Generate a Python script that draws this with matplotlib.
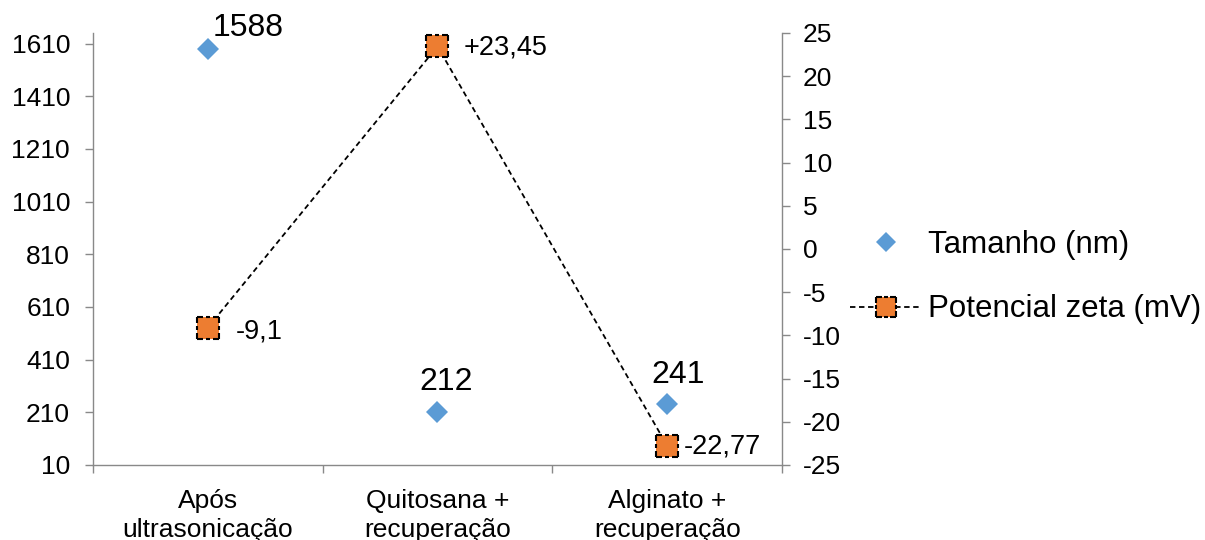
import matplotlib
matplotlib.use('Agg')
import matplotlib.pyplot as plt
from matplotlib.path import Path
from matplotlib.lines import Line2D
from matplotlib.legend_handler import HandlerTuple
import numpy as np

# ---- data ----
categories = ["Após\nultrasonicação", "Quitosana +\nrecuperação", "Alginato +\nrecuperação"]
tamanho_nm = [1588, 212, 241]
zeta_mv = [-9.1, 23.45, -22.77]
size_ticks = [10, 210, 410, 610, 810, 1010, 1210, 1410, 1610]
zeta_ticks = [-25, -20, -15, -10, -5, 0, 5, 10, 15, 20, 25]
series_names = ["Tamanho (nm)", "Potencial zeta (mV)"]

plt.rcParams['font.family'] = ['Liberation Sans', 'DejaVu Sans']
plt.rcParams['axes.unicode_minus'] = False

BLUE = '#5B9BD5'
ORANGE = '#ED7D31'
GRAY = '#898989'

fig = plt.figure(figsize=(12.05, 5.4), dpi=100)
ax = fig.add_axes([93/1205, 1 - 465/540, (782-93)/1205, (465-33)/540])
ax2 = ax.twinx()

x = np.arange(1, len(categories) + 1)
ax.set_xlim(0.5, len(categories) + 0.5)
ax.set_ylim(10, 1650)
ax2.set_ylim(-25, 25)

# spines
for a in (ax, ax2):
    a.spines['top'].set_visible(False)
    for s in ('left', 'right', 'bottom'):
        a.spines[s].set_color(GRAY)
        a.spines[s].set_linewidth(1.0)
ax.spines['right'].set_visible(False)
ax2.spines['left'].set_visible(False)
ax2.spines['bottom'].set_visible(False)

# ticks
ax.set_yticks(size_ticks)
ax.tick_params(axis='y', direction='out', length=6, width=1.0, color=GRAY,
               labelsize=19, pad=10.5, labelcolor='black')
ax2.set_yticks(zeta_ticks)
ax2.tick_params(axis='y', direction='out', length=6, width=1.0, color=GRAY,
                labelsize=19, pad=9, labelcolor='black')
ax.set_xticks(np.arange(0.5, len(categories) + 1, 1.0))
ax.set_xticklabels([])
ax.tick_params(axis='x', which='major', direction='out', length=6, width=1.0, color=GRAY)
ax.set_xticks(x, minor=True)
ax.set_xticklabels(categories, minor=True, fontsize=19, linespacing=1.3)
ax.tick_params(axis='x', which='minor', length=0, pad=17, labelcolor='black')

# size series (diamonds)
h1, = ax.plot(x, tamanho_nm, linestyle='none', marker='D', markersize=11,
              color=BLUE, markeredgewidth=0, zorder=3, clip_on=False)
size_offsets = [(40, 21), (9, 30), (11, 29)]
for xi, v, off in zip(x, tamanho_nm, size_offsets):
    ax.annotate(f"{v}", (xi, v), xytext=off, textcoords='offset pixels',
                ha='center', va='center', fontsize=23, annotation_clip=False)

# dashed square marker outline
d = [(0.0, 0.28), (0.4, 0.6), (0.72, 1.0)]
corners = [(-0.5, -0.5), (0.5, -0.5), (0.5, 0.5), (-0.5, 0.5), (-0.5, -0.5)]
verts, codes = [], []
for i in range(4):
    (x0, y0), (x1, y1) = corners[i], corners[i + 1]
    for a0, a1 in d:
        verts.append((x0 + (x1 - x0) * a0, y0 + (y1 - y0) * a0))
        verts.append((x0 + (x1 - x0) * a1, y0 + (y1 - y0) * a1))
        codes += [Path.MOVETO, Path.LINETO]
dashed_sq = Path(verts, codes)

h2, = ax2.plot(x, zeta_mv, linestyle=(0, (3, 2)), color='black', linewidth=1.3,
               marker='s', markersize=16, markerfacecolor=ORANGE, markeredgewidth=0,
               zorder=3, clip_on=False)
h3, = ax2.plot(x, zeta_mv, linestyle='none', marker=dashed_sq, markersize=16,
               markerfacecolor='none', markeredgecolor='black', markeredgewidth=1.5,
               zorder=4, clip_on=False)
zeta_offsets = [(28, -4), (26, -1), (17, -1)]
for xi, v, off in zip(x, zeta_mv, zeta_offsets):
    lab = f"{v:+g}".replace('.', ',')
    ax2.annotate(lab, (xi, v), xytext=(off[0], off[1]), textcoords='offset pixels',
                 ha='left', va='center', fontsize=19.5, annotation_clip=False)

# legend
hl1 = Line2D([], [], linestyle='none', marker='D', markersize=10, color=BLUE, markeredgewidth=0)
hl2 = Line2D([], [], linestyle=(0, (3, 2)), color='black', linewidth=1.3,
             marker='s', markersize=14, markerfacecolor=ORANGE, markeredgewidth=0)
hl3 = Line2D([], [], linestyle='none', marker=dashed_sq, markersize=14,
             markerfacecolor='none', markeredgecolor='black', markeredgewidth=1.5)
leg = fig.legend([hl1, (hl2, hl3)], series_names, loc='center left',
                 bbox_to_anchor=(850/1205, 1 - 277/540), frameon=False,
                 fontsize=22.5, handlelength=2.3, handletextpad=0.2,
                 labelspacing=1.12, borderpad=0, borderaxespad=0,
                 handler_map={tuple: HandlerTuple(ndivide=1, pad=0)})

fig.savefig('out.png', dpi=100)
